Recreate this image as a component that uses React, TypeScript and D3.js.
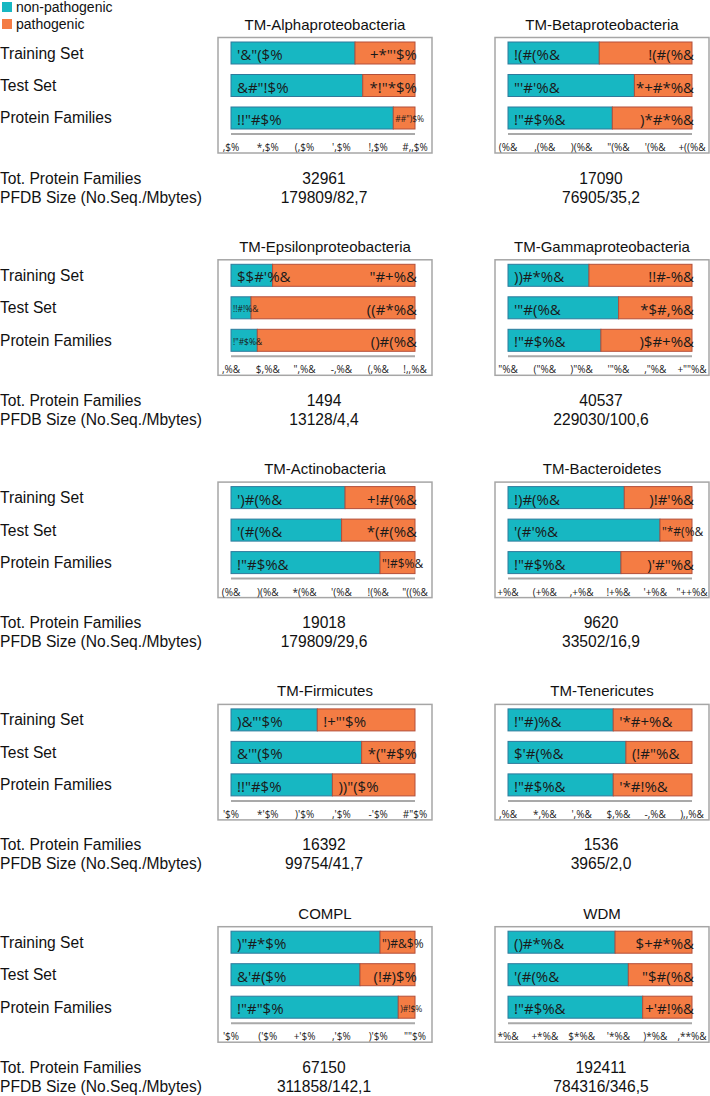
import React from 'react';
import * as d3 from 'd3';

const panelTitles = [
  'TM-Alphaproteobacteria', 'TM-Betaproteobacteria',
  'TM-Epsilonproteobacteria', 'TM-Gammaproteobacteria',
  'TM-Actinobacteria', 'TM-Bacteroidetes',
  'TM-Firmicutes', 'TM-Tenericutes',
  'COMPL', 'WDM',
];
const setNames = ['Training Set', 'Test Set', 'Protein Families'];
const legendNames = ['non-pathogenic', 'pathogenic'];

// share of non-pathogenic per set (Training, Test, Protein Families)
const nonPathShare = [
  [0.674, 0.716, 0.882],
  [0.496, 0.687, 0.567],
  [0.226, 0.109, 0.143],
  [0.440, 0.601, 0.505],
  [0.620, 0.601, 0.810],
  [0.632, 0.826, 0.614],
  [0.469, 0.710, 0.551],
  [0.572, 0.641, 0.572],
  [0.810, 0.701, 0.909],
  [0.582, 0.654, 0.732],
];
const nonPathLabels = [
  ['\'&"($%', '&#"!$%', '!!"#$%'],
  ['!(#(%&', '"\'#\'%&', '!"#$%&'],
  ['$$#\'%&', '!!#!%&', '!"#$%&'],
  ['))#*%&', '\'"#(%&', '!"#$%&'],
  ['\')#(%&', '\'(#(%&', '!"#$%&'],
  ['!)#(%&', '\'(#\'%&', '!"#$%&'],
  [')&"\'$%', '&\'"($%', '!!"#$%'],
  ['!"#)%&', '$\'#(%&', '!"#$%&'],
  [')"#*$%', '&\'#($%', '!"#"$%'],
  ['()#*%&', '\'(#(%&', '!"#$%&'],
];
const pathLabels = [
  ['+*"\'$%', '*!"*$%', '##")$%'],
  ['!(#(%&', '*+#*%&', ')*#*%&'],
  ['"#+%&', '((#*%&', '()#(%&'],
  ['!!#-%&', '*$#,%&', ')$#+%&'],
  ['+!#(%&', '*(#(%&', '"!#$%&'],
  [')!#\'%&', '"*#(%&', ')\'#"%&'],
  ['!+"\'$%', '*("#$%', '))"($%'],
  ['\'*#+%&', '(!#"%&', '\'*#!%&'],
  ['")#&$%', '(!#)$%', ')#!$%'],
  ['$+#*%&', '"$#(%&', '+\'#!%&'],
];
const tickLabels = [
  [',$%', '*,$%', '(,$%', '\',$%', '!,$%', '#,,$%'],
  ['(%&', ',(%&', ')(%&', '"(%&', '\'(%&', '+((%&'],
  [',%&', '$,%&', '",%&', '-,%&', '(,%&', '!,,%&'],
  ['"%&', '("%&', ')"%&', '\'"%&', ',"%&', '+""%&'],
  ['(%&', ')(%&', '*(%&', '\'(%&', '!(%&', '"((%&'],
  ['+%&', '(+%&', ',+%&', '!+%&', '\'+%&', '"++%&'],
  ['\'$%', '*\'$%', ')\'$%', ',\'$%', '-\'$%', '#"$%'],
  [',%&', '*,%&', '\',%&', '$,%&', '-,%&', '),,%&'],
  ['\'$%', '(\'$%', '+\'$%', ',\'$%', ')\'$%', '""$%'],
  ['*%&', '+*%&', '$*%&', '\'*%&', ')*%&', ',**%&'],
];
const infoNames = ['Tot. Protein Families', 'PFDB Size (No.Seq./Mbytes)'];
const totFamilies = ['32961', '17090', '1494', '40537', '19018', '9620', '16392', '1536', '67150', '192411'];
const pfdbSize = ['179809/82,7', '76905/35,2', '13128/4,4', '229030/100,6', '179809/29,6',
  '33502/16,9', '99754/41,7', '3965/2,0', '311858/142,1', '784316/346,5'];

// panels whose pathogenic label sits next to the split
const leftAlignedPath = new Set(['TM-Firmicutes', 'TM-Tenericutes']);

const TEAL = '#17b7c2';
const ORANGE = '#f47c44';
const W = 710;
const H = 1096;
const SANS = '"Liberation Sans", Arial, sans-serif';
const LABEL_FONT = '"Open Sans", "DejaVu Sans", sans-serif';
const TXT = 15.6;

const BAR_LEFT0 = 231;
const BAR_W = 184;
const COL_DX = 277;
const ROW_TOP0 = 42;
const ROW_DY = 222.3;

function labelSize(w: number) {
  if (w < 28) return 8.5;
  if (w < 40) return 12;
  return 15;
}

function Panel({ idx }: { idx: number }) {
  const col = idx % 2;
  const row = Math.floor(idx / 2);
  const x0 = BAR_LEFT0 + col * COL_DX;
  const top = ROW_TOP0 + row * ROW_DY;
  const x = d3.scaleLinear().domain([0, 1]).range([x0, x0 + BAR_W]);
  const y = d3.scaleBand<string>().domain(setNames).range([top, top + 87]).paddingInner(0.323).paddingOuter(0);
  const bw = y.bandwidth();
  const ticks = d3.range(6).map((i) => i / 5);
  const cx = (x(0) + x(1)) / 2;
  const title = panelTitles[idx];
  return (
    <g>
      <text x={cx + 2} y={top - 18} textAnchor="middle" dominantBaseline="central"
        fontFamily={SANS} fontSize={15} fill="#111">{title}</text>
      <rect x={x0 - 13} y={top - 4.5} width={BAR_W + 30} height={115.5}
        fill="none" stroke="#a6a6a6" strokeWidth={1.5} />
      {setNames.map((s, j) => {
        const v = nonPathShare[idx][j];
        const yy = y(s)!;
        const tw = x(v) - x(0);
        const ow = x(1) - x(v);
        const ts = labelSize(tw);
        const os = labelSize(ow);
        let ox: number;
        let anchor: 'start' | 'end';
        if (os < 15) { ox = x(v) + 2; anchor = 'start'; }
        else if (leftAlignedPath.has(title)) { ox = x(v) + 6; anchor = 'start'; }
        else { ox = x(1) + 2; anchor = 'end'; }
        return (
          <g key={s}>
            <rect x={x(0)} y={yy} width={tw} height={bw} fill={TEAL} stroke="#2f7a9c" strokeWidth={1} />
            <rect x={x(v)} y={yy} width={ow} height={bw} fill={ORANGE} stroke="#b34f3a" strokeWidth={1} />
            <text x={x(0) + (ts < 15 ? 2 : 6)} y={yy + bw / 2 + 1} dominantBaseline="central"
              fontFamily={LABEL_FONT} fontSize={ts} fill="#1a1a1a">{nonPathLabels[idx][j]}</text>
            <text x={ox} y={yy + bw / 2 + 1} dominantBaseline="central" textAnchor={anchor}
              fontFamily={LABEL_FONT} fontSize={os} fill="#1a1a1a">{pathLabels[idx][j]}</text>
          </g>
        );
      })}
      <line x1={x(0)} x2={x(1)} y1={top + 92} y2={top + 92} stroke="#a9a9a9" strokeWidth={2} />
      {ticks.map((t, i) => (
        <text key={i} x={x(t)} y={top + 105} textAnchor="middle" dominantBaseline="central"
          fontFamily={LABEL_FONT} fontSize={10} fill="#222">{tickLabels[idx][i]}</text>
      ))}
      <text x={cx + 1} y={top + 136} textAnchor="middle" dominantBaseline="central"
        fontFamily={SANS} fontSize={TXT} fill="#111">{totFamilies[idx]}</text>
      <text x={cx + 1} y={top + 155} textAnchor="middle" dominantBaseline="central"
        fontFamily={SANS} fontSize={TXT} fill="#111">{pfdbSize[idx]}</text>
    </g>
  );
}

export default function App() {
  const rows = d3.range(5);
  const legendColors = [TEAL, ORANGE];
  return (
    <svg width={W} height={H} style={{ position: 'absolute', left: 0, top: 0, background: '#fff' }}>
      <rect width={W} height={H} fill="#fff" />
      {legendNames.map((n, i) => (
        <g key={n}>
          <rect x={2} y={2 + i * 17} width={10} height={10} fill={legendColors[i]} />
          <text x={16} y={7 + i * 17} dominantBaseline="central" fontFamily={SANS} fontSize={14} fill="#111">{n}</text>
        </g>
      ))}
      {rows.map((r) => {
        const top = ROW_TOP0 + r * ROW_DY;
        const y = d3.scaleBand<string>().domain(setNames).range([top, top + 87]).paddingInner(0.323).paddingOuter(0);
        return (
          <g key={r}>
            {setNames.map((s) => (
              <text key={s} x={0} y={y(s)! + y.bandwidth() / 2} dominantBaseline="central"
                fontFamily={SANS} fontSize={TXT} fill="#111">{s}</text>
            ))}
            {infoNames.map((n, k) => (
              <text key={n} x={0} y={top + 136 + k * 19} dominantBaseline="central"
                fontFamily={SANS} fontSize={TXT} fill="#111">{n}</text>
            ))}
          </g>
        );
      })}
      {panelTitles.map((_, i) => <Panel key={i} idx={i} />)}
    </svg>
  );
}
